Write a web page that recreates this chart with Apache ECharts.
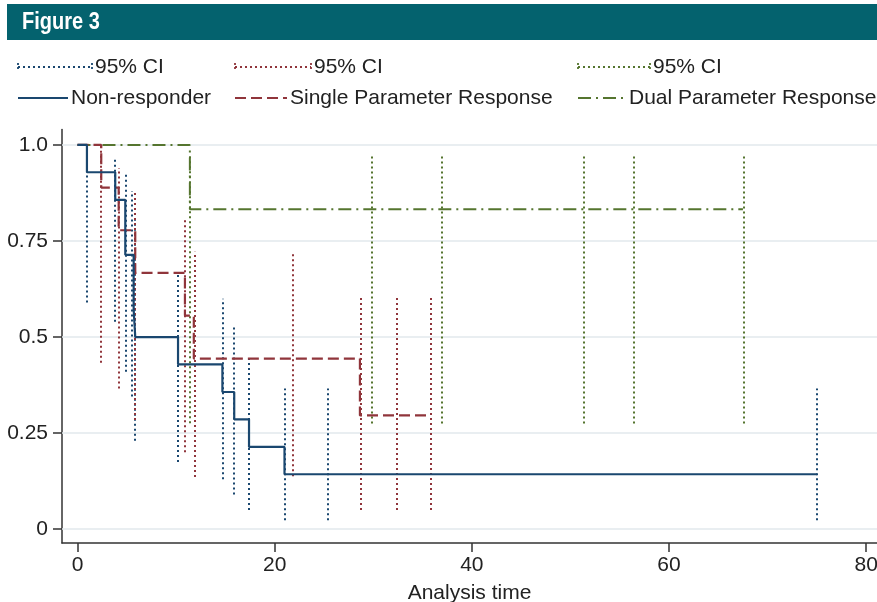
<!DOCTYPE html>
<html>
<head>
<meta charset="utf-8">
<script src="https://cdn.jsdelivr.net/npm/echarts@6/dist/echarts.min.js"></script>
<style>
  html, body { margin: 0; padding: 0; background: #fff; }
  #chart { width: 877px; height: 602px; }
</style>
</head>
<body>
<div id="chart"></div>
<script>
// Kaplan-Meier step curves (time, survival)
const nonResponderTime = [0, 0.96, 3.83, 4.85, 5.7, 5.86, 10.2, 14.7, 15.9, 17.4, 21.0, 75.0]
const nonResponderSurv = [1, 0.929, 0.857, 0.714, 0.571, 0.5, 0.429, 0.357, 0.286, 0.214, 0.143, 0.143]
const singleTime = [0, 2.41, 4.18, 5.86, 10.9, 11.8, 28.65, 35.75]
const singleSurv = [1, 0.889, 0.778, 0.667, 0.556, 0.444, 0.296, 0.296]
const dualTime = [0, 11.4, 67.5]
const dualSurv = [1, 0.833, 0.833]

// 95% CI spikes (time, lower, upper)
const nonResponderCiTime = [0.96, 3.83, 4.85, 5.5, 5.86, 10.2, 14.7, 15.9, 17.4, 21.0, 25.4, 75.0]
const nonResponderCiLow = [0.59, 0.54, 0.41, 0.345, 0.23, 0.175, 0.13, 0.09, 0.05, 0.023, 0.023, 0.023]
const nonResponderCiHigh = [1.0, 0.965, 0.93, 0.88, 0.81, 0.666, 0.6, 0.525, 0.45, 0.366, 0.366, 0.366]
const singleCiTime = [2.41, 4.18, 5.86, 10.9, 11.9, 21.8, 28.7, 32.4, 35.8]
const singleCiLow = [0.433, 0.366, 0.284, 0.2, 0.136, 0.138, 0.05, 0.05, 0.05]
const singleCiHigh = [1.0, 0.94, 0.883, 0.805, 0.722, 0.722, 0.609, 0.609, 0.609]
const dualCiTime = [11.4, 29.9, 36.9, 51.4, 56.4, 67.6]
const dualCiLow = [0.276, 0.275, 0.275, 0.275, 0.275, 0.275]
const dualCiHigh = [0.977, 0.977, 0.977, 0.977, 0.977, 0.977]

const xTicks = [0, 20, 40, 60, 80]
const yTicks = [0, 0.25, 0.5, 0.75, 1]

const BLUE = '#1a476f'
const RED = '#90353b'
const GREEN = '#55752f'
const TEXT = '#222'
const FONT = '"Liberation Sans", Arial, sans-serif'
const DOTS = [2, 3]
const DASH = [11, 5]
const DASHDOT = [13, 5, 2, 5]

const steps = (t, s) => t.map((v, i) => [v, s[i]])
const spikes = (t, lo, hi) => t.map((v, i) => ({ coords: [[v, lo[i]], [v, hi[i]]] }))

const ciSeries = (name, data, color) => ({
  name: name,
  type: 'lines',
  coordinateSystem: 'cartesian2d',
  data: data,
  z: 2,
  silent: true,
  lineStyle: { color: color, width: 2, type: DOTS, opacity: 1 }
})

const kmSeries = (name, data, color, type, width) => ({
  name: name,
  type: 'line',
  step: 'end',
  data: data,
  showSymbol: false,
  symbol: 'none',
  z: 3,
  silent: true,
  lineStyle: { color: color, width: width, type: type }
})

// legend drawn by hand: row of CI keys, row of curve keys
const legendItem = (x, y, len, color, dash, width, label, caps) => {
  const items = [
    {
      type: 'line',
      shape: { x1: x, y1: y, x2: x + len, y2: y },
      style: { stroke: color, lineWidth: width, lineDash: dash }
    },
    {
      type: 'text',
      x: x + len + 3,
      y: y,
      style: { text: label, fill: TEXT, font: '21px ' + FONT, verticalAlign: 'middle' }
    }
  ]
  if (caps) {
    items.push(
      { type: 'line', shape: { x1: x, y1: y - 4, x2: x, y2: y + 4 }, style: { stroke: color, lineWidth: 1.8, lineDash: [2, 2] } },
      { type: 'line', shape: { x1: x + len, y1: y - 4, x2: x + len, y2: y + 4 }, style: { stroke: color, lineWidth: 1.8, lineDash: [2, 2] } }
    )
  }
  return items
}

const chart = echarts.init(document.getElementById('chart'))

chart.setOption({
  animation: false,
  backgroundColor: '#fff',
  textStyle: { fontFamily: FONT },
  grid: { left: 62, right: 0, top: 129.6, height: 413.4, containLabel: false, outerBoundsMode: 'none' },
  xAxis: {
    type: 'value',
    min: -1.57,
    max: 81.1,
    name: 'Analysis time',
    nameLocation: 'middle',
    nameGap: 40,
    nameTextStyle: { fontSize: 21, color: TEXT, fontFamily: FONT },
    axisLine: { show: true, onZero: false, lineStyle: { color: '#333', width: 1.5 } },
    axisTick: { show: true, customValues: xTicks, length: 9, lineStyle: { color: '#333', width: 1.5 } },
    axisLabel: { customValues: xTicks, fontSize: 21, color: TEXT, margin: 12, fontFamily: FONT },
    splitLine: { show: false }
  },
  yAxis: {
    type: 'value',
    min: -0.036,
    max: 1.04,
    axisLine: { show: true, onZero: false, lineStyle: { color: '#333', width: 1.5 } },
    axisTick: { show: true, customValues: yTicks, length: 9, lineStyle: { color: '#333', width: 1.5 } },
    axisLabel: {
      customValues: yTicks,
      fontSize: 21,
      color: TEXT,
      margin: 14,
      fontFamily: FONT,
      formatter: (v) => (v === 1 ? '1.0' : String(v))
    },
    splitLine: { show: false }
  },
  graphic: [
    {
      type: 'rect',
      shape: { x: 7, y: 4, width: 870, height: 36 },
      style: { fill: '#04626e' }
    },
    {
      type: 'text',
      x: 22,
      y: 23,
      scaleY: 1.15,
      style: { text: 'Figure 3', fill: '#fff', font: 'bold 20px ' + FONT, verticalAlign: 'middle' }
    },
    ...legendItem(18, 67, 74, BLUE, DOTS, 2, '95% CI', true),
    ...legendItem(235, 67, 76, RED, DOTS, 2, '95% CI', true),
    ...legendItem(578, 67, 72, GREEN, DOTS, 2, '95% CI', true),
    ...legendItem(18, 98, 50, BLUE, null, 2.2, 'Non-responder', false),
    ...legendItem(235, 98, 52, RED, DASH, 2.2, 'Single Parameter Response', false),
    ...legendItem(578, 98, 48, GREEN, DASHDOT, 2, 'Dual Parameter Response', false)
  ],
  series: [
    {
      name: 'grid',
      type: 'line',
      data: [],
      z: 1,
      silent: true,
      markLine: {
        z: 1,
        silent: true,
        symbol: 'none',
        label: { show: false },
        lineStyle: { color: '#e2e9ed', width: 1.5, type: 'solid' },
        data: yTicks.map((v) => ({ yAxis: v }))
      }
    },
    ciSeries('Non-responder 95% CI', spikes(nonResponderCiTime, nonResponderCiLow, nonResponderCiHigh), BLUE),
    ciSeries('Single 95% CI', spikes(singleCiTime, singleCiLow, singleCiHigh), RED),
    ciSeries('Dual 95% CI', spikes(dualCiTime, dualCiLow, dualCiHigh), GREEN),
    kmSeries('Dual Parameter Response', steps(dualTime, dualSurv), GREEN, DASHDOT, 2),
    kmSeries('Single Parameter Response', steps(singleTime, singleSurv), RED, DASH, 2.2),
    kmSeries('Non-responder', steps(nonResponderTime, nonResponderSurv), BLUE, 'solid', 2.2)
  ]
})
</script>
</body>
</html>
